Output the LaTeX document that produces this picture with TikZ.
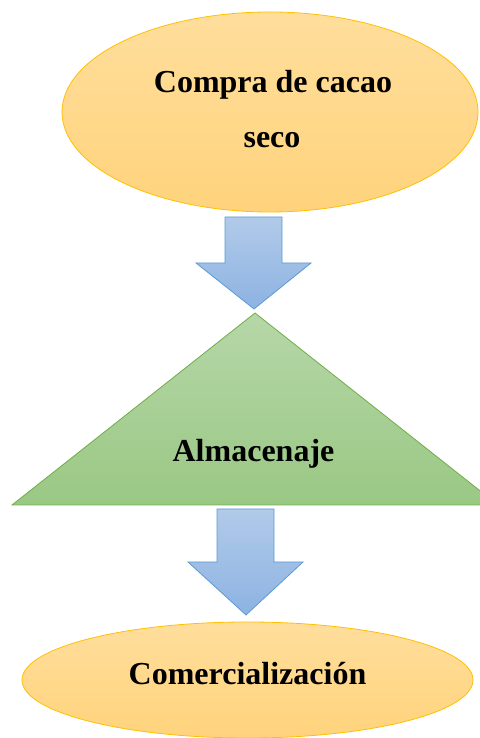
\documentclass[tikz,border=0pt]{standalone}
\usepackage{fontspec}
\setmainfont{Liberation Serif}
\usetikzlibrary{shapes.geometric}
\definecolor{goldEdge}{HTML}{FFC000}
\definecolor{goldTop}{HTML}{FFDE9C}
\definecolor{goldBot}{HTML}{FFD37C}
\definecolor{blueEdge}{HTML}{5B9BD5}
\definecolor{blueTop}{HTML}{B1CAE9}
\definecolor{blueBot}{HTML}{8DB3E2}
\definecolor{greenEdge}{HTML}{70AD47}
\definecolor{greenTop}{HTML}{B6D7A8}
\definecolor{greenBot}{HTML}{9AC884}
\tikzset{
  oval/.style={ellipse, draw=goldEdge, line width=0.8pt, top color=goldTop, bottom color=goldBot, inner sep=0pt},
  blockarrow/.style={draw=blueEdge, line width=0.8pt, top color=blueTop, bottom color=blueBot, line join=miter},
  tri/.style={draw=greenEdge, line width=0.8pt, top color=greenTop, bottom color=greenBot},
  lbl/.style={font=\bfseries\fontsize{32}{38}\selectfont, inner sep=0pt, anchor=base}
}
\begin{document}
\begin{tikzpicture}[x=1pt,y=1pt]
\useasboundingbox (0,0) rectangle (479,738);
% top oval
\node[oval, minimum width=416pt, minimum height=200pt] (buy) at (270,626) {};
\node[lbl] (buyA) at (273,645) {Compra de cacao};
\node[lbl] (buyB) at (272,590) {seco};
% first block arrow
\path[blockarrow] (225,521) -- (282,521) -- (282,475) -- (311,475) -- (254,429)
  -- (196,475) -- (225,475) -- cycle;
% storage triangle
\coordinate (apex) at (255,425);
\coordinate (bl) at (12,233);
\coordinate (br) at (498,233);
\path[tri] (apex) -- (br) -- (bl) -- cycle;
\node[lbl] (store) at (253.5,276) {Almacenaje};
% second block arrow
\path[blockarrow] (217,229) -- (274,229) -- (274,176) -- (303,176) -- (246,123)
  -- (188,176) -- (217,176) -- cycle;
% bottom oval
\node[oval, minimum width=451pt, minimum height=116pt] (sell) at (247.5,58) {};
\node[lbl] (sellT) at (247.5,53) {Comercialización};
\end{tikzpicture}
\end{document}
